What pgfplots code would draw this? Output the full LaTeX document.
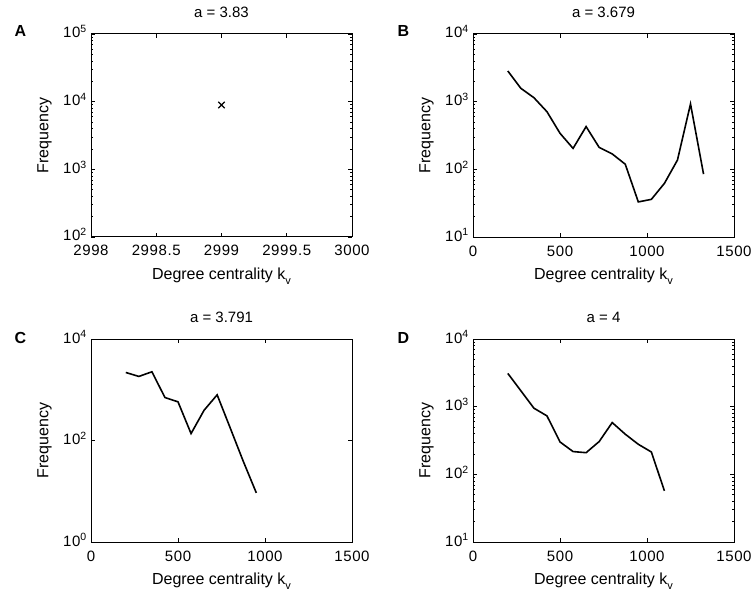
\documentclass[border=0pt]{standalone}
\usepackage{fontspec}
\setmainfont{Liberation Sans}
\usepackage{pgfplots}
\pgfplotsset{compat=1.18}

\newcommand{\fs}{\fontsize{15}{18}\selectfont}
\newcommand{\fl}{\fontsize{16}{18}\selectfont}
\newcommand{\ft}{\fontsize{15}{18}\selectfont\addfontfeature{LetterSpace=4}}
\newcommand{\kv}{Degree centrality k\raisebox{-5pt}{\fontsize{11}{12}\selectfont v}}

\pgfplotsset{
  panel/.style={
    scale only axis, width=261pt, height=203pt,
    tick align=inside, xtick pos=both, ytick pos=both,
    major tick length=4pt, minor tick length=2pt,
    axis line style={line width=1pt},
    every tick/.append style={black, line width=0.6pt},
    font=\fs,
    title style={at={(axis description cs:0.5,1.054)}, anchor=base},
    xlabel style={at={(axis description cs:0.5,-0.207)}, anchor=base, font=\fl},
    ylabel style={at={(axis description cs:-0.163,0.5)}, anchor=base, font=\fl},
    xticklabel style={anchor=base, yshift=-19pt, font=\ft},
    yticklabel style={anchor=base east, inner sep=0pt, xshift=-4pt, yshift=-4pt, font=\ft},
    xlabel={\kv},
    ylabel={Frequency},
  },
  kx/.style={xmin=0, xmax=1500, xtick={0,500,1000,1500},
    xticklabels={0,500,1000,1500}},
  dec/.style={ymin=10, ymax=10000, ytick={10,100,1000,10000},
    minor ytick={20,30,40,50,60,70,80,90,200,300,400,500,600,700,800,900,
      2000,3000,4000,5000,6000,7000,8000,9000},
    yticklabels={10\textsuperscript{1},10\textsuperscript{2},10\textsuperscript{3},10\textsuperscript{4}}},
  curve/.style={black, line width=1.6pt},
}

\begin{document}
\begin{tikzpicture}
\path[use as bounding box] (0,0) rectangle (754pt,-591pt);

% A
\begin{axis}[ymode=log, panel, at={(91pt,-34pt)}, anchor=north west,
  title={a = 3.83},
  xmin=2998, xmax=3000, xtick={2998,2998.5,2999,2999.5,3000},
  xticklabels={2998,2998.5,2999,2999.5,3000},
  ymin=100, ymax=100000, ytick={100,1000,10000,100000},
  minor ytick={200,300,400,500,600,700,800,900,2000,3000,4000,5000,6000,7000,8000,9000,
    20000,30000,40000,50000,60000,70000,80000,90000},
  yticklabels={10\textsuperscript{2},10\textsuperscript{3},10\textsuperscript{4},10\textsuperscript{5}}]
\addplot[only marks, mark=x, mark size=4.5pt, black, line width=1.2pt] coordinates {(2999,8900)};
\end{axis}

% B
\begin{axis}[ymode=log, panel, kx, dec, at={(473pt,-34pt)}, anchor=north west,
  title={a = 3.679}]
\addplot[curve] coordinates {
(200,2840) (275,1575) (350,1145) (425,711) (500,341) (575,204) (650,428) (725,211)
(800,169) (875,119) (950,33) (1025,36) (1100,62) (1175,137) (1250,925) (1325,85)};
\end{axis}

% C
\begin{axis}[ymode=log, panel, kx, at={(91pt,-339pt)}, anchor=north west,
  title={a = 3.791},
  ymin=1, ymax=10000, ytick={1,100,10000}, minor ytick={},
  yticklabels={10\textsuperscript{0},10\textsuperscript{2},10\textsuperscript{4}}]
\addplot[curve] coordinates {
(200,2190) (275,1830) (350,2260) (425,703) (500,578) (575,137) (650,395) (725,794)
(800,177) (875,39) (950,9.3)};
\end{axis}

% D
\begin{axis}[ymode=log, panel, kx, dec, at={(473pt,-339pt)}, anchor=north west,
  title={a = 4}]
\addplot[curve] coordinates {
(200,3100) (275,1720) (350,950) (425,731) (500,301) (575,217) (650,209) (725,305)
(800,582) (875,392) (950,278) (1025,214) (1100,57)};
\end{axis}

\node[anchor=base west, font=\bfseries\fl] at (11pt,-37pt) {A};
\node[anchor=base west, font=\bfseries\fl] at (394pt,-37pt) {B};
\node[anchor=base west, font=\bfseries\fl] at (11pt,-343pt) {C};
\node[anchor=base west, font=\bfseries\fl] at (394pt,-343pt) {D};
\end{tikzpicture}
\end{document}
